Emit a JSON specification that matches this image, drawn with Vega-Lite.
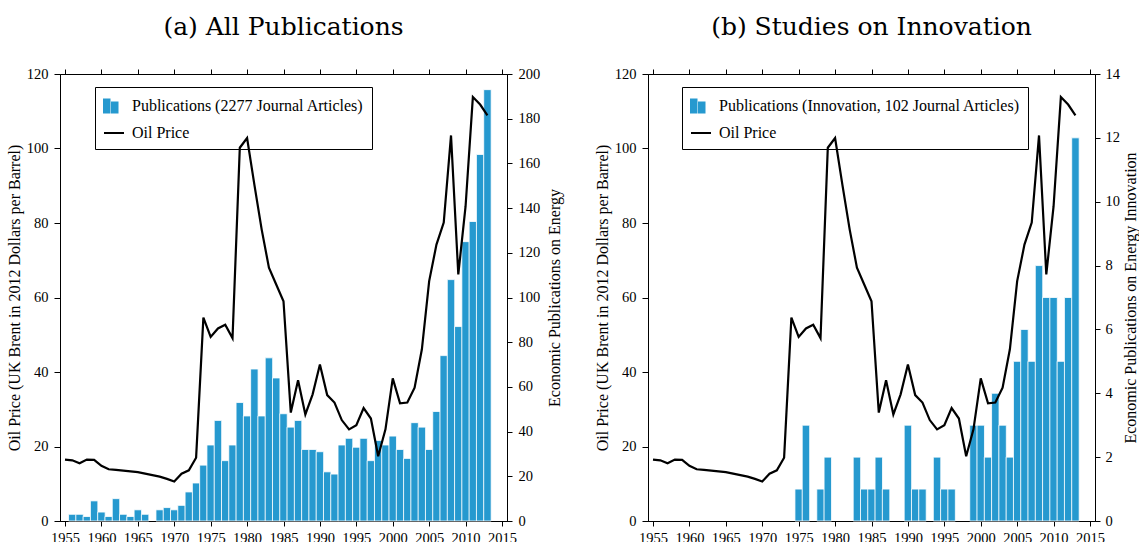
{
  "$schema": "https://vega.github.io/schema/vega-lite/v6.json",
  "padding": {"left": 5, "top": 14, "right": 0, "bottom": 0},
  "background": "white",
  "datasets": {
    "d": [
      {"year": 1955, "pubs": 0, "innov": 0, "oil": 16.5},
      {"year": 1956, "pubs": 3, "innov": 0, "oil": 16.3},
      {"year": 1957, "pubs": 3, "innov": 0, "oil": 15.5},
      {"year": 1958, "pubs": 2, "innov": 0, "oil": 16.5},
      {"year": 1959, "pubs": 9, "innov": 0, "oil": 16.4},
      {"year": 1960, "pubs": 4, "innov": 0, "oil": 14.8},
      {"year": 1961, "pubs": 2, "innov": 0, "oil": 13.9},
      {"year": 1962, "pubs": 10, "innov": 0, "oil": 13.7},
      {"year": 1963, "pubs": 3, "innov": 0, "oil": 13.5},
      {"year": 1964, "pubs": 2, "innov": 0, "oil": 13.3},
      {"year": 1965, "pubs": 5, "innov": 0, "oil": 13.1},
      {"year": 1966, "pubs": 3, "innov": 0, "oil": 12.7},
      {"year": 1967, "pubs": 0, "innov": 0, "oil": 12.3},
      {"year": 1968, "pubs": 5, "innov": 0, "oil": 11.9},
      {"year": 1969, "pubs": 6, "innov": 0, "oil": 11.3},
      {"year": 1970, "pubs": 5, "innov": 0, "oil": 10.6},
      {"year": 1971, "pubs": 7, "innov": 0, "oil": 12.7},
      {"year": 1972, "pubs": 13, "innov": 0, "oil": 13.6},
      {"year": 1973, "pubs": 17, "innov": 0, "oil": 17.0},
      {"year": 1974, "pubs": 25, "innov": 0, "oil": 54.6},
      {"year": 1975, "pubs": 34, "innov": 1, "oil": 49.4},
      {"year": 1976, "pubs": 45, "innov": 3, "oil": 51.7},
      {"year": 1977, "pubs": 27, "innov": 0, "oil": 52.7},
      {"year": 1978, "pubs": 34, "innov": 1, "oil": 49.1},
      {"year": 1979, "pubs": 53, "innov": 2, "oil": 100.2},
      {"year": 1980, "pubs": 47, "innov": 0, "oil": 102.8},
      {"year": 1981, "pubs": 68, "innov": 0, "oil": 90.3},
      {"year": 1982, "pubs": 47, "innov": 0, "oil": 78.3},
      {"year": 1983, "pubs": 73, "innov": 2, "oil": 68.0},
      {"year": 1984, "pubs": 64, "innov": 1, "oil": 63.5},
      {"year": 1985, "pubs": 48, "innov": 1, "oil": 59.0},
      {"year": 1986, "pubs": 42, "innov": 2, "oil": 29.1},
      {"year": 1987, "pubs": 45, "innov": 1, "oil": 37.8},
      {"year": 1988, "pubs": 32, "innov": 0, "oil": 28.6},
      {"year": 1989, "pubs": 32, "innov": 0, "oil": 34.0},
      {"year": 1990, "pubs": 31, "innov": 3, "oil": 42.0},
      {"year": 1991, "pubs": 22, "innov": 1, "oil": 33.8},
      {"year": 1992, "pubs": 21, "innov": 1, "oil": 31.8},
      {"year": 1993, "pubs": 34, "innov": 0, "oil": 27.1},
      {"year": 1994, "pubs": 37, "innov": 2, "oil": 24.6},
      {"year": 1995, "pubs": 33, "innov": 1, "oil": 25.7},
      {"year": 1996, "pubs": 37, "innov": 1, "oil": 30.3},
      {"year": 1997, "pubs": 27, "innov": 0, "oil": 27.5},
      {"year": 1998, "pubs": 36, "innov": 0, "oil": 17.4},
      {"year": 1999, "pubs": 34, "innov": 3, "oil": 24.6},
      {"year": 2000, "pubs": 38, "innov": 3, "oil": 38.3},
      {"year": 2001, "pubs": 32, "innov": 2, "oil": 31.6},
      {"year": 2002, "pubs": 28, "innov": 4, "oil": 31.8},
      {"year": 2003, "pubs": 44, "innov": 3, "oil": 35.8},
      {"year": 2004, "pubs": 42, "innov": 2, "oil": 46.1},
      {"year": 2005, "pubs": 32, "innov": 5, "oil": 64.4},
      {"year": 2006, "pubs": 49, "innov": 6, "oil": 74.2},
      {"year": 2007, "pubs": 74, "innov": 5, "oil": 80.1},
      {"year": 2008, "pubs": 108, "innov": 8, "oil": 103.5},
      {"year": 2009, "pubs": 87, "innov": 7, "oil": 66.2},
      {"year": 2010, "pubs": 125, "innov": 7, "oil": 84.5},
      {"year": 2011, "pubs": 134, "innov": 5, "oil": 113.8},
      {"year": 2012, "pubs": 164, "innov": 7, "oil": 111.8},
      {"year": 2013, "pubs": 193, "innov": 12, "oil": 108.9}
    ]
  },
  "config": {
    "font": "Liberation Serif",
    "view": {"stroke": "black", "strokeWidth": 1},
    "axis": {
      "grid": false,
      "domainColor": "black",
      "tickColor": "black",
      "labelColor": "black",
      "titleColor": "black",
      "labelFont": "Liberation Serif",
      "titleFont": "Liberation Serif",
      "labelFontSize": 14.5,
      "titleFontSize": 16,
      "titleFontWeight": "normal",
      "tickSize": 5,
      "tickWidth": 1,
      "domainWidth": 1,
      "labelFlush": false,
      "labelOverlap": false
    },
    "title": {
      "font": "DejaVu Serif",
      "fontSize": 25,
      "fontWeight": "normal",
      "color": "black",
      "frame": "group",
      "anchor": "middle",
      "offset": 26
    },
    "legend": {
      "orient": "none",
      "strokeColor": "black",
      "padding": 8,
      "cornerRadius": 0,
      "labelFont": "Liberation Serif",
      "labelFontSize": 16,
      "labelColor": "black",
      "labelLimit": 0,
      "labelOffset": 7,
      "symbolSize": 400,
      "symbolStrokeWidth": 2,
      "rowPadding": 5
    },
    "concat": {"spacing": 29}
  },
  "resolve": {"scale": {"color": "independent"}, "legend": {"color": "independent"}},
  "hconcat": [
    {
      "width": 447,
      "height": 447,
      "title": "(a) All Publications",
      "data": {"name": "d"},
      "layer": [
        {
          "transform": [{"filter": "datum.pubs > 0"}],
          "mark": {"type": "bar", "size": 7.45, "stroke": "white", "strokeWidth": 0.8},
          "encoding": {
            "x": {
              "field": "year", "type": "quantitative",
              "scale": {"domain": [1955, 2015], "nice": false, "zero": false},
              "axis": {"orient": "bottom", "title": null, "format": "d", "values": [1955, 1960, 1965, 1970, 1975, 1980, 1985, 1990, 1995, 2000, 2005, 2010, 2015], "labelPadding": 5}
            },
            "y": {
              "field": "pubs", "type": "quantitative",
              "scale": {"domain": [0, 200], "nice": false},
              "axis": {"orient": "right", "title": "Economic Publications on Energy", "titleAngle": 270, "titleBaseline": "top", "values": [0, 20, 40, 60, 80, 100, 120, 140, 160, 180, 200], "labelPadding": 6, "titlePadding": 7}
            },
            "color": {
              "datum": "Publications (2277 Journal Articles)", "type": "nominal",
              "scale": {"domain": ["Publications (2277 Journal Articles)", "Oil Price"], "range": ["#2699cf", "black"]},
              "legend": {
                "title": null, "legendX": 35, "legendY": 13,
                "encoding": {"symbols": {
                  "shape": {"value": {"expr": "datum.value === 'Oil Price' ? 'stroke' : 'M-1,-0.65H-0.45V0.65H-1Z M-0.2,-0.35H0.35V0.65H-0.2Z'"}},
                  "fill": {"value": {"expr": "datum.value === 'Oil Price' ? 'transparent' : '#2699cf'"}},
                  "stroke": {"value": {"expr": "datum.value === 'Oil Price' ? 'black' : 'transparent'"}},
                  "strokeWidth": {"value": 2},
                  "opacity": {"value": 1}
                }}
              }
            }
          }
        },
        {
          "mark": {"type": "line", "strokeWidth": 2.2, "strokeJoin": "miter"},
          "encoding": {
            "x": {
              "field": "year", "type": "quantitative",
              "axis": {"orient": "top", "title": null, "labels": false, "domain": false, "values": [1955, 1960, 1965, 1970, 1975, 1980, 1985, 1990, 1995, 2000, 2005, 2010, 2015]}
            },
            "y": {
              "field": "oil", "type": "quantitative",
              "scale": {"domain": [0, 120], "nice": false},
              "axis": {"orient": "left", "title": "Oil Price (UK Brent in 2012 Dollars per Barrel)", "values": [0, 20, 40, 60, 80, 100, 120], "tickSize": 6, "labelPadding": 6, "titlePadding": 4}
            },
            "color": {"datum": "Oil Price", "type": "nominal"}
          }
        }
      ],
      "resolve": {"scale": {"y": "independent"}, "axis": {"x": "independent"}}
    },
    {
      "width": 447,
      "height": 447,
      "title": "(b) Studies on Innovation",
      "data": {"name": "d"},
      "layer": [
        {
          "transform": [{"filter": "datum.innov > 0"}],
          "mark": {"type": "bar", "size": 7.45, "stroke": "white", "strokeWidth": 0.8},
          "encoding": {
            "x": {
              "field": "year", "type": "quantitative",
              "scale": {"domain": [1955, 2015], "nice": false, "zero": false},
              "axis": {"orient": "bottom", "title": null, "format": "d", "values": [1955, 1960, 1965, 1970, 1975, 1980, 1985, 1990, 1995, 2000, 2005, 2010, 2015], "labelPadding": 5}
            },
            "y": {
              "field": "innov", "type": "quantitative",
              "scale": {"domain": [0, 14], "nice": false},
              "axis": {"orient": "right", "title": "Economic Publications on Energy Innovation", "titleAngle": 270, "titleBaseline": "top", "values": [0, 2, 4, 6, 8, 10, 12, 14], "labelPadding": 5, "titlePadding": 3}
            },
            "color": {
              "datum": "Publications (Innovation, 102 Journal Articles)", "type": "nominal",
              "scale": {"domain": ["Publications (Innovation, 102 Journal Articles)", "Oil Price"], "range": ["#2699cf", "black"]},
              "legend": {
                "title": null, "legendX": 34, "legendY": 13,
                "encoding": {"symbols": {
                  "shape": {"value": {"expr": "datum.value === 'Oil Price' ? 'stroke' : 'M-1,-0.65H-0.45V0.65H-1Z M-0.2,-0.35H0.35V0.65H-0.2Z'"}},
                  "fill": {"value": {"expr": "datum.value === 'Oil Price' ? 'transparent' : '#2699cf'"}},
                  "stroke": {"value": {"expr": "datum.value === 'Oil Price' ? 'black' : 'transparent'"}},
                  "strokeWidth": {"value": 2},
                  "opacity": {"value": 1}
                }}
              }
            }
          }
        },
        {
          "mark": {"type": "line", "strokeWidth": 2.2, "strokeJoin": "miter"},
          "encoding": {
            "x": {
              "field": "year", "type": "quantitative",
              "axis": {"orient": "top", "title": null, "labels": false, "domain": false, "values": [1955, 1960, 1965, 1970, 1975, 1980, 1985, 1990, 1995, 2000, 2005, 2010, 2015]}
            },
            "y": {
              "field": "oil", "type": "quantitative",
              "scale": {"domain": [0, 120], "nice": false},
              "axis": {"orient": "left", "title": "Oil Price (UK Brent in 2012 Dollars per Barrel)", "values": [0, 20, 40, 60, 80, 100, 120], "tickSize": 6, "labelPadding": 6, "titlePadding": 4}
            },
            "color": {"datum": "Oil Price", "type": "nominal"}
          }
        }
      ],
      "resolve": {"scale": {"y": "independent"}, "axis": {"x": "independent"}}
    }
  ]
}
